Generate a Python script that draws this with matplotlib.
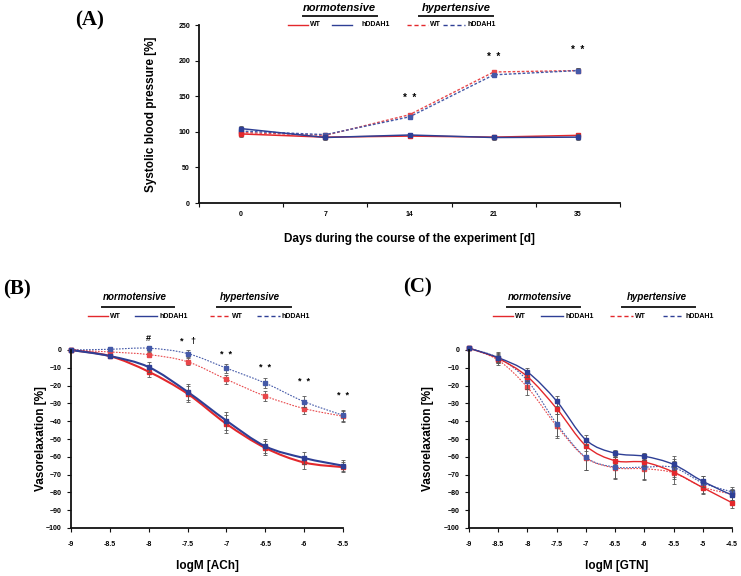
import numpy as np
import matplotlib
matplotlib.use("Agg")
import matplotlib.pyplot as plt
from matplotlib.path import Path
from matplotlib.patches import PathPatch
from matplotlib.lines import Line2D

# ---------------- data ----------------
days = ["0", "7", "14", "21", "35"]
bp_wt_norm = [97, 92.5, 94, 92.5, 95]
bp_dd_norm = [104.5, 92, 95.5, 92, 92.5]
bp_wt_hyp = [99, 95, 124, 184, 186]
bp_dd_hyp = [101, 96, 121, 180, 186]
bp_err = [4, 3, 3, 3, 4]
bp_stars_y = [None, None, 147, 205, 215]

ach_x = [-9, -8.5, -8, -7.5, -7, -6.5, -6, -5.5]
ach_wt_norm = [0, -3.4, -12.2, -24.6, -41.5, -55, -63.2, -65.8]
ach_dd_norm = [0, -3.4, -9.6, -23.5, -39.7, -54.1, -60.7, -65]
ach_wt_hyp = [0, -1.1, -2.6, -6.6, -16.5, -25.9, -32.9, -37.2]
ach_dd_hyp = [0, 0.4, 1.0, -2.0, -10.2, -18.6, -29, -36.7]
ach_err_norm = [0, 1, 3, 4.5, 5, 4, 3.5, 3]
ach_err_hyp = [0, 1, 1.5, 2, 2.5, 3, 3, 3]
ach_sig = ["", "", "#", "*   \u2020", "*  *", "*  *", "*  *", "*  *"]
ach_sig_y = [None, None, 6.6, 5, -2.5, -10, -17.7, -25.6]

gtn_x = [-9, -8.5, -8, -7.5, -7, -6.5, -6, -5.5, -5, -4.5]
gtn_wt_norm = [1, -4.8, -15, -32.9, -53.8, -62.2, -63, -68.6, -77.3, -85.8]
gtn_dd_norm = [1, -4.3, -12.4, -28.7, -50.5, -58, -59.7, -64.3, -73.8, -81.5]
gtn_wt_hyp = [1, -5.7, -21, -42.7, -60.6, -66.2, -66.7, -69, -77, -81]
gtn_dd_hyp = [1, -4.4, -17.2, -41.4, -60.3, -65.8, -65.8, -66, -74.7, -79.7]
gtn_err_norm = [0, 2.5, 2.5, 3, 3, 2, 2, 3, 3, 3]
gtn_err_hyp = [0, 3, 4.5, 7, 7, 6, 6.5, 6.5, 4, 3]

RED = "#e3282c"
BLUE = "#2e3f95"
RED_L = "#e8474a"
BLUE_L = "#4459a8"
W, H = 741, 576

fig = plt.figure(figsize=(W / 100, H / 100), dpi=100)
plt.rcParams["font.family"] = ["Liberation Sans", "DejaVu Sans"]


def ax_at(l, t, r, b):
    return fig.add_axes([l / W, 1 - b / H, (r - l) / W, (b - t) / H])


def fx(x):
    return x / W


def fy(y):
    return 1 - y / H


def fline(x0, x1, y, color, ls="-", lw=1.0):
    fig.add_artist(Line2D([fx(x0), fx(x1)], [fy(y), fy(y)], color=color,
                          lw=lw, ls=ls, transform=fig.transFigure))


def header(nc, hc, nu, hu, yt, yu, yr, items, tsize):
    fig.text(fx(nc), fy(yt), "normotensive", ha="center", va="center",
             fontsize=tsize, fontweight="bold", fontstyle="italic")
    fig.text(fx(hc), fy(yt), "hypertensive", ha="center", va="center",
             fontsize=tsize, fontweight="bold", fontstyle="italic")
    fline(nu[0], nu[1], yu, "#222222", lw=1.4)
    fline(hu[0], hu[1], yu, "#222222", lw=1.4)
    for (x0, x1, xt, col, ls, lab) in items:
        fline(x0, x1, yr, col, ls=ls, lw=1.0)
        fig.text(fx(xt), fy(yr), lab, ha="left", va="center", fontsize=5,
                 fontweight="bold")


def style(ax):
    for s in ["top", "right"]:
        ax.spines[s].set_visible(False)
    for s in ["left", "bottom"]:
        ax.spines[s].set_linewidth(1.3)
        ax.spines[s].set_color("#111111")
    ax.tick_params(labelsize=5, width=0.8, length=3, color="#111111")
    for lab in ax.get_xticklabels() + ax.get_yticklabels():
        lab.set_fontweight("bold")


def smooth_path(x, y):
    pts = np.column_stack([x, y]).astype(float)
    verts = [pts[0]]
    codes = [Path.MOVETO]
    n = len(pts)
    for i in range(n - 1):
        p0 = pts[i - 1] if i > 0 else pts[i]
        p3 = pts[i + 2] if i + 2 < n else pts[i + 1]
        c1 = pts[i] + (pts[i + 1] - p0) / 6
        c2 = pts[i + 1] - (p3 - pts[i]) / 6
        verts += [c1, c2, pts[i + 1]]
        codes += [Path.CURVE4] * 3
    return Path(verts, codes)


def series(ax, x, y, err, color, ls, lw, ms, smooth=True):
    if smooth:
        patch = PathPatch(smooth_path(x, y), fill=False, edgecolor=color,
                          lw=lw, linestyle=ls, clip_on=False)
        ax.add_patch(patch)
    else:
        ax.plot(x, y, color=color, lw=lw, ls=ls, clip_on=False)
    ax.errorbar(x, y, yerr=err, fmt="none", ecolor="#555555", elinewidth=0.6,
                capsize=1.3, capthick=0.6, clip_on=False)
    ax.plot(x, y, ls="none", marker="s", ms=ms, color=color, clip_on=False)


# ---------------- panel A ----------------
axA = ax_at(199, 25, 620, 203)
xa = np.arange(len(days))
series(axA, xa, bp_wt_hyp, bp_err, RED_L, (0, (2, 1.3)), 1.0, 3.5, smooth=False)
series(axA, xa, bp_dd_hyp, bp_err, BLUE_L, (0, (2, 1.3)), 1.0, 3.5, smooth=False)
series(axA, xa, bp_wt_norm, bp_err, RED, "-", 1.1, 3.5, smooth=False)
series(axA, xa, bp_dd_norm, bp_err, BLUE, "-", 1.1, 3.5, smooth=False)
for xi, sy in zip(xa, bp_stars_y):
    if sy is not None:
        axA.text(xi, sy, "*  *", ha="center", va="center", fontsize=7,
                 fontweight="bold")
axA.set_xlim(-0.5, 4.5)
axA.set_ylim(0, 250)
axA.set_yticks(range(0, 251, 50))
axA.set_xticks(np.arange(-0.5, 4.6, 1))
axA.set_xticks(xa, minor=True)
axA.set_xticklabels([])
axA.set_xticklabels(days, minor=True)
axA.tick_params(axis="x", which="minor", length=0, pad=6)
style(axA)
for lab in axA.get_xticklabels(minor=True):
    lab.set_fontweight("bold")
    lab.set_fontsize(5)
axA.set_ylabel("Systolic blood pressure [%]", fontsize=8.5, fontweight="bold")
axA.yaxis.set_label_coords(-0.1, 0.5)
axA.set_xlabel("Days during the course of the experiment [d]", fontsize=8.5,
               fontweight="bold")
axA.xaxis.set_label_coords(0.5, -0.17)

fig.text(fx(90), fy(20), "(A)", ha="center", va="center", fontsize=15,
         fontweight="bold", family="Liberation Serif")
header(339, 456, (303, 377), (419, 493), 8, 16, 25,
       [(288, 308, 310, RED, "-", "WT"), (332, 352, 361, BLUE, "-", "hDDAH1"),
        (407, 428, 430, RED, (0, (3, 2)), "WT"),
        (443, 465, 468, BLUE, (0, (3, 2)), "hDDAH1")], 8)

# ---------------- panel B ----------------
axB = ax_at(71, 350, 343, 528)
series(axB, ach_x, ach_wt_hyp, ach_err_hyp, RED_L, (0, (1.5, 1.2)), 0.8, 2.6)
series(axB, ach_x, ach_dd_hyp, ach_err_hyp, BLUE_L, (0, (1.5, 1.2)), 0.8, 2.6)
series(axB, ach_x, ach_wt_norm, ach_err_norm, RED, "-", 1.5, 2.6)
series(axB, ach_x, ach_dd_norm, ach_err_norm, BLUE, "-", 1.5, 2.6)
for xi, s, sy in zip(ach_x, ach_sig, ach_sig_y):
    if sy is not None:
        axB.text(xi, sy, s, ha="center", va="center", fontsize=6.5,
                 fontweight="bold", clip_on=False)
axB.set_xlim(-9, -5.5)
axB.set_ylim(-100, 0)
axB.set_xticks(ach_x)
axB.set_xticklabels([f"{v:g}" for v in ach_x])
axB.set_yticks(range(-100, 1, 10))
style(axB)
axB.tick_params(axis="x", pad=6)
axB.set_ylabel("Vasorelaxation [%]", fontsize=8.5, fontweight="bold")
axB.yaxis.set_label_coords(-0.088, 0.5)
axB.set_xlabel("logM [ACh]", fontsize=8.5, fontweight="bold")
axB.xaxis.set_label_coords(0.5, -0.18)
fig.text(fx(17), fy(289), "(B)", ha="center", va="center", fontsize=15,
         fontweight="bold", family="Liberation Serif")
header(135, 250, (102, 174), (217, 291), 297, 307, 316,
       [(88, 108, 110, RED, "-", "WT"), (135, 157, 159, BLUE, "-", "hDDAH1"),
        (210, 230, 232, RED, (0, (3, 2)), "WT"),
        (257, 280, 281, BLUE, (0, (3, 2)), "hDDAH1")], 7)

# ---------------- panel C ----------------
axC = ax_at(469, 350, 732, 528)
series(axC, gtn_x, gtn_wt_hyp, gtn_err_hyp, RED_L, (0, (1.5, 1.2)), 0.8, 2.4)
series(axC, gtn_x, gtn_dd_hyp, gtn_err_hyp, BLUE_L, (0, (1.5, 1.2)), 0.8, 2.4)
series(axC, gtn_x, gtn_wt_norm, gtn_err_norm, RED, "-", 1.0, 2.4)
series(axC, gtn_x, gtn_dd_norm, gtn_err_norm, BLUE, "-", 1.0, 2.4)
axC.set_xlim(-9, -4.5)
axC.set_ylim(-100, 0)
axC.set_xticks(gtn_x)
axC.set_xticklabels([f"{v:g}" for v in gtn_x])
axC.set_yticks(range(-100, 1, 10))
style(axC)
axC.tick_params(axis="x", pad=6)
axC.set_ylabel("Vasorelaxation [%]", fontsize=8.5, fontweight="bold")
axC.yaxis.set_label_coords(-0.133, 0.5)
axC.set_xlabel("logM [GTN]", fontsize=8.5, fontweight="bold")
axC.xaxis.set_label_coords(0.56, -0.18)
fig.text(fx(418), fy(287), "(C)", ha="center", va="center", fontsize=15,
         fontweight="bold", family="Liberation Serif")
header(540, 657, (507, 580), (622, 695), 297, 307, 316,
       [(493, 513, 515, RED, "-", "WT"), (541, 563, 565, BLUE, "-", "hDDAH1"),
        (610, 633, 635, RED, (0, (3, 2)), "WT"),
        (663, 682, 685, BLUE, (0, (3, 2)), "hDDAH1")], 7)

fig.savefig("out.png", dpi=100)
